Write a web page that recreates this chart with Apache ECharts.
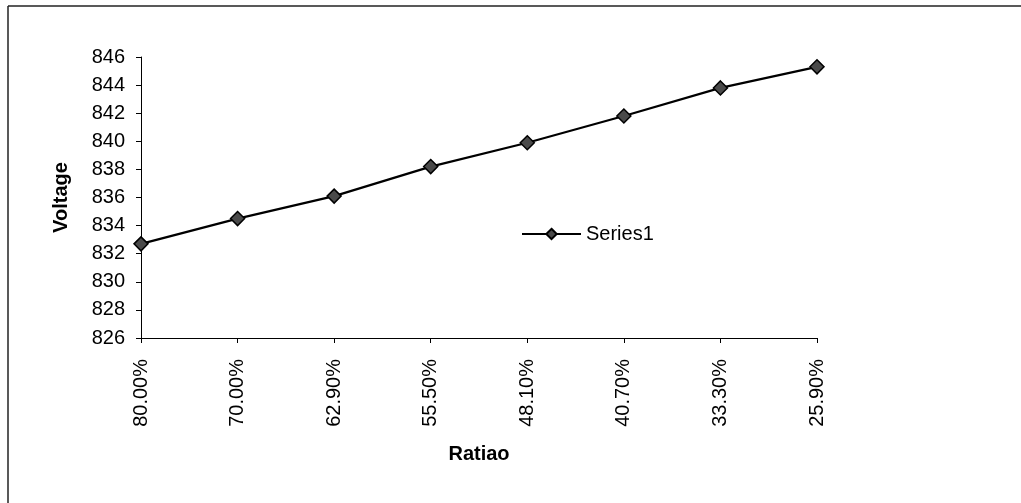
<!DOCTYPE html>
<html>
<head>
<meta charset="utf-8">
<script src="https://cdn.jsdelivr.net/npm/echarts@6/dist/echarts.min.js"></script>
<style>html,body{margin:0;padding:0;background:#fff}#c{width:1021px;height:503px}</style>
</head>
<body>
<div id="c"></div>
<script>
const categories = ['80.00%', '70.00%', '62.90%', '55.50%', '48.10%', '40.70%', '33.30%', '25.90%'];
const series1 = [832.7, 834.5, 836.1, 838.2, 839.9, 841.8, 843.8, 845.3];
const yTicks = { min: 826, max: 846, interval: 2 };

const chart = echarts.init(document.getElementById('c'));
const font = 'Liberation Sans, Arial, sans-serif';
chart.setOption({
  animation: false,
  backgroundColor: '#fff',
  graphic: [
    { type: 'line', shape: { x1: 8, y1: 6, x2: 1021, y2: 6 }, style: { stroke: '#222', lineWidth: 1.5 } },
    { type: 'line', shape: { x1: 8, y1: 6, x2: 8, y2: 503 }, style: { stroke: '#222', lineWidth: 1.5 } }
  ],
  grid: { left: 141, right: 204, top: 57, bottom: 165, containLabel: false },
  legend: {
    left: 516, top: 219,
    itemWidth: 59, itemHeight: 13, itemGap: 6,
    textStyle: { fontFamily: font, fontSize: 20, color: '#000' },
    data: ['Series1']
  },
  xAxis: {
    type: 'category',
    data: categories,
    boundaryGap: false,
    name: 'Ratiao',
    nameLocation: 'middle',
    nameGap: 106,
    nameTextStyle: { fontFamily: font, fontSize: 20, fontWeight: 'bold', color: '#000' },
    axisLine: { lineStyle: { color: '#000', width: 1 } },
    axisTick: { show: true, length: 5, alignWithLabel: true, lineStyle: { color: '#000' } },
    axisLabel: { rotate: 90, margin: 21, fontFamily: font, fontSize: 20, color: '#000', interval: 0 },
    splitLine: { show: false }
  },
  yAxis: {
    type: 'value',
    min: yTicks.min, max: yTicks.max, interval: yTicks.interval,
    name: 'Voltage',
    nameLocation: 'middle',
    nameRotate: 90,
    nameGap: 70,
    nameTextStyle: { fontFamily: font, fontSize: 20, fontWeight: 'bold', color: '#000' },
    axisLine: { show: true, lineStyle: { color: '#000', width: 1 } },
    axisTick: { show: true, length: 5, lineStyle: { color: '#000' } },
    axisLabel: { margin: 16, fontFamily: font, fontSize: 20, color: '#000' },
    splitLine: { show: false }
  },
  series: [{
    name: 'Series1',
    type: 'line',
    data: series1,
    symbol: 'diamond',
    symbolSize: 14,
    lineStyle: { color: '#000', width: 2.2 },
    itemStyle: { color: '#4a4a4a', borderColor: '#000', borderWidth: 1.5 }
  }]
});
</script>
</body>
</html>
